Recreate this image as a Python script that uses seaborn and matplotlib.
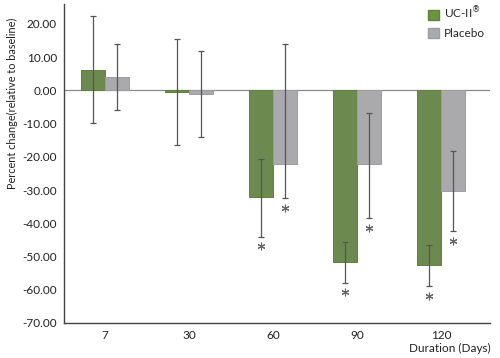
import pandas as pd
import numpy as np
import seaborn as sns
import matplotlib.pyplot as plt
from matplotlib.patches import Patch

# data
days = ['7', '30', '60', '90', '120']
groups = ['UC-II$^{®}$', 'Placebo']
uc2 = [6.0, -0.5, -32.0, -51.8, -52.5]
placebo = [3.9, -1.2, -22.2, -22.2, -30.3]
# error bar ends (upper, lower)
uc2_hi = [22.3, 15.3, -20.8, -45.7, -46.6]
uc2_lo = [-9.9, -16.5, -44.2, -58.0, -59.0]
pl_hi = [13.9, 11.7, 13.9, -6.9, -18.4]
pl_lo = [-6.0, -14.1, -32.5, -38.5, -42.4]
uc2_star = [False, False, True, True, True]
pl_star = [False, False, True, True, True]

green = '#6c9345'
grey = '#a9aaae'

df = pd.DataFrame({
    'Day': days * 2,
    'Group': ['UC-II'] * 5 + ['Placebo'] * 5,
    'Change': uc2 + placebo,
})

sns.set_style('white')
plt.rcParams['font.family'] = ['Lato', 'DejaVu Sans']

fig = plt.figure(figsize=(5, 3.58), dpi=100)
ax = fig.add_axes([0.128, 0.098, 0.852, 0.891])

sns.barplot(data=df, x='Day', y='Change', hue='Group', order=days,
            hue_order=['UC-II', 'Placebo'], palette=[green, grey],
            width=0.57, gap=0, errorbar=None, legend=False, ax=ax, zorder=2)

for p, col in zip(ax.patches, [green] * 5 + [grey] * 5):
    p.set_edgecolor('#5d8535' if col == green else '#9c9da1')
    p.set_linewidth(0.7)

ax.axhline(0, color='#8a8a8a', lw=0.9, zorder=1)

bars = ax.patches
xs_uc = [b.get_x() + b.get_width() / 2 for b in bars[:5]]
xs_pl = [b.get_x() + b.get_width() / 2 for b in bars[5:10]]

for xs, vals, hi, lo, star in [(xs_uc, uc2, uc2_hi, uc2_lo, uc2_star),
                               (xs_pl, placebo, pl_hi, pl_lo, pl_star)]:
    mid = [(h + l) / 2 for h, l in zip(hi, lo)]
    err = [[m - l for m, l in zip(mid, lo)], [h - m for h, m in zip(hi, mid)]]
    ax.errorbar(xs, mid, yerr=err, fmt='none', ecolor='#555555',
                elinewidth=0.9, capsize=2.2, capthick=0.9, zorder=3)
    sx = [x for x, s in zip(xs, star) if s]
    sy = [l - 2.8 for l, s in zip(lo, star) if s]
    ax.plot(sx, sy, ls='none', marker=(6, 2, 0), ms=5.5, mew=0.8,
            color='#666666', zorder=3)

ax.set_ylim(-70, 26)
ax.set_xlim(-0.49, 4.58)
ax.set_yticks(np.arange(-70, 21, 10))
ax.set_yticklabels([f'{v:.2f}' for v in np.arange(-70, 21, 10)])
ax.tick_params(axis='both', length=0, labelsize=8.5, colors='#222222', pad=5)
ax.set_xlabel('')
ax.set_ylabel('Percent change(relative to baseline)', fontsize=7.8,
              color='#222222')
ax.yaxis.set_label_coords(-0.108, 0.69)
fig.text(0.982, 0.012, 'Duration (Days)', ha='right', va='bottom',
         fontsize=8.5, color='#222222')

for s in ['top', 'right']:
    ax.spines[s].set_visible(False)
for s in ['left', 'bottom']:
    ax.spines[s].set_color('#444444')
    ax.spines[s].set_linewidth(1.0)

handles = [Patch(facecolor=green, edgecolor='#5d8535', label=groups[0]),
           Patch(facecolor=grey, edgecolor='#9c9da1', label=groups[1])]
ax.legend(handles=handles, loc='upper left', bbox_to_anchor=(0.83, 1.03),
          frameon=False, fontsize=8.5, handlelength=0.9, handleheight=0.9,
          handletextpad=0.4, labelspacing=0.6)

fig.savefig('out.png', dpi=100)
